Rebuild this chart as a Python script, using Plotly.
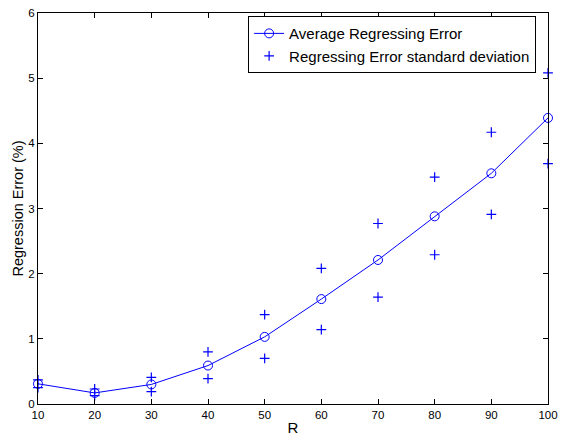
import plotly.graph_objects as go

R = [10, 20, 30, 40, 50, 60, 70, 80, 90, 100]
avg_err = [0.31, 0.17, 0.30, 0.59, 1.03, 1.61, 2.21, 2.88, 3.54, 4.39]
std_upper = [0.37, 0.23, 0.41, 0.80, 1.37, 2.08, 2.77, 3.48, 4.17, 5.08]
std_lower = [0.25, 0.13, 0.19, 0.39, 0.70, 1.14, 1.64, 2.29, 2.91, 3.69]

blue = "#0000ff"
fig = go.Figure()
fig.add_trace(go.Scatter(
    x=R, y=avg_err, mode="lines+markers", name="Average Regressing Error",
    line=dict(color=blue, width=1), cliponaxis=False,
    marker=dict(symbol="circle-open", size=9, color=blue, line=dict(width=1, color=blue)),
))
fig.add_trace(go.Scatter(
    x=R + R, y=std_upper + std_lower, mode="markers", cliponaxis=False,
    name="Regressing Error standard deviation",
    marker=dict(symbol="cross-thin-open", size=7, color=blue, line=dict(width=1.2, color=blue)),
))

axis_common = dict(
    showgrid=False, zeroline=False, showline=True, linecolor="black", linewidth=1,
    mirror="ticks", ticks="inside", ticklen=5, tickcolor="black",
    tickfont=dict(family="Liberation Sans, Arial", size=11.5, color="black"),
)
fig.update_xaxes(range=[10, 100], tickvals=R, title=dict(text="R", font=dict(size=15, family="Liberation Sans, Arial", color="black"), standoff=2), **axis_common)
fig.update_yaxes(range=[0, 6], tickvals=[0, 1, 2, 3, 4, 5, 6], title=dict(text="Regression Error (%)", font=dict(size=14.5, family="Liberation Sans, Arial", color="black"), standoff=1), **axis_common)

fig.update_layout(
    width=569, height=440,
    margin=dict(l=38, r=21, t=7, b=36),
    paper_bgcolor="white", plot_bgcolor="white",
    showlegend=True,
    legend=dict(
        x=0.412, y=0.992, xanchor="left", yanchor="top",
        bordercolor="black", borderwidth=1, bgcolor="white",
        font=dict(family="Liberation Sans, Arial", size=15, color="black"),
        tracegroupgap=0, itemwidth=30,
    ),
)
fig.write_html("out.html")
